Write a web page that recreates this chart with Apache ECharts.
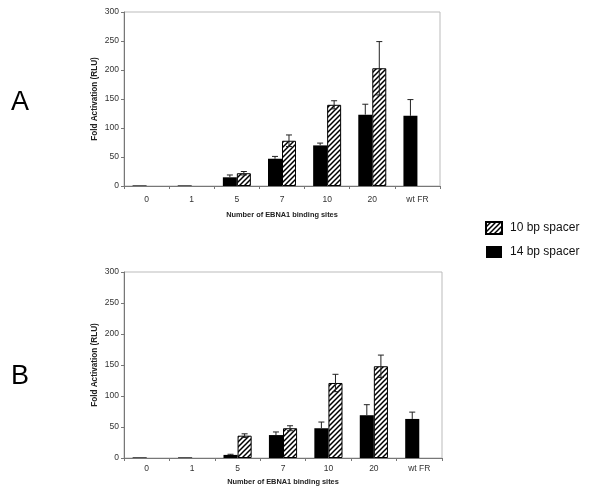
<!DOCTYPE html>
<html><head><meta charset="utf-8">
<script src="https://cdn.jsdelivr.net/npm/echarts@6/dist/echarts.min.js"></script>
<style>html,body{margin:0;padding:0;background:#fff}#c{width:600px;height:494px}</style>
</head><body><div id="c"></div>
<script>
var categories = ['0','1','5','7','10','20','wt FR'];
var yTicks = [0,50,100,150,200,250,300];
// Panel A
var aSpacer14 = [1,1,15,47,70,123,121];
var aSpacer14Err = [0,0,4,4,4,18,28];
var aSpacer10 = [null,null,22,78,140,203,null];
var aSpacer10Err = [null,null,3,10,7,46,null];
// Panel B
var bSpacer14 = [1,1,5,37,48,69,63];
var bSpacer14Err = [0,0,1,5,10,17,11];
var bSpacer10 = [null,null,36,48,121,148,null];
var bSpacer10Err = [null,null,3,4,14,18,null];

var pc = document.createElement('canvas');
pc.width = 5; pc.height = 5;
var g = pc.getContext('2d');
g.fillStyle = '#fff'; g.fillRect(0,0,5,5);
g.strokeStyle = '#000'; g.lineWidth = 1.5;
g.beginPath();
g.moveTo(-1,6); g.lineTo(6,-1);
g.moveTo(-1,1); g.lineTo(1,-1);
g.moveTo(4,6); g.lineTo(6,4);
g.stroke();
var hatch = {image: pc, repeat: 'repeat'};

function errData(vals, errs){
  var out = [];
  for (var i = 0; i < vals.length; i++) {
    if (vals[i] != null && errs[i]) out.push([i, vals[i], errs[i]]);
  }
  return out;
}
function errRender(sign, lower){
  return function(params, api){
    var x = api.value(0), v = api.value(1), e = api.value(2);
    var band = api.size([1,0])[0];
    var off = sign * band * 0.155;
    var top = api.coord([x, v + e]);
    var bot = api.coord([x, lower ? Math.max(0, v - e) : v]);
    var cx = top[0] + off, hw = 3;
    var st = {stroke: '#222', lineWidth: 1};
    var ch = [
      {type: 'line', shape: {x1: cx, y1: top[1], x2: cx, y2: bot[1]}, style: st},
      {type: 'line', shape: {x1: cx - hw, y1: top[1], x2: cx + hw, y2: top[1]}, style: st}
    ];
    if (lower) ch.push({type: 'line', shape: {x1: cx - hw, y1: bot[1], x2: cx + hw, y2: bot[1]}, style: st});
    return {type: 'group', children: ch};
  };
}
function xAx(gi, labelMargin, nameGap){
  return {type: 'category', gridIndex: gi, data: categories,
    name: 'Number of EBNA1 binding sites', nameLocation: 'middle', nameGap: nameGap,
    nameMoveOverlap: false,
    nameTextStyle: {fontFamily: 'Liberation Sans', fontSize: 7.4, fontWeight: 'bold', color: '#222'},
    axisLine: {lineStyle: {color: '#777'}},
    axisTick: {show: true, length: 3, lineStyle: {color: '#777'}},
    axisLabel: {fontFamily: 'Liberation Sans', fontSize: 8.5, color: '#333', margin: labelMargin}};
}
function yAx(gi){
  return {type: 'value', gridIndex: gi, min: 0, max: 300, interval: 50,
    name: 'Fold Activation (RLU)', nameLocation: 'middle', nameGap: 25, nameRotate: 90,
    nameMoveOverlap: false,
    nameTextStyle: {fontFamily: 'Liberation Sans', fontSize: 8.2, fontWeight: 'bold', color: '#222'},
    axisLine: {show: true, lineStyle: {color: '#777'}},
    axisTick: {show: true, length: 3, lineStyle: {color: '#777'}},
    splitLine: {show: false},
    axisLabel: {fontFamily: 'Liberation Sans', fontSize: 8.5, color: '#333', margin: 5}};
}
function bars(gi, v14, v10){
  return [
    {name: '14 bp spacer', type: 'bar', xAxisIndex: gi, yAxisIndex: gi, data: v14,
     barWidth: '31%', barGap: '0%', itemStyle: {color: '#000'}},
    {name: '10 bp spacer', type: 'bar', xAxisIndex: gi, yAxisIndex: gi, data: v10,
     barWidth: '31%', barGap: '0%', itemStyle: {color: hatch, borderColor: '#000', borderWidth: 1}}
  ];
}
var series = [].concat(
  bars(0, aSpacer14, aSpacer10), bars(1, bSpacer14, bSpacer10),
  [
    {type: 'custom', xAxisIndex: 0, yAxisIndex: 0, z: 5, renderItem: errRender(-1, false), data: errData(aSpacer14, aSpacer14Err)},
    {type: 'custom', xAxisIndex: 0, yAxisIndex: 0, z: 5, renderItem: errRender(1, true), data: errData(aSpacer10, aSpacer10Err)},
    {type: 'custom', xAxisIndex: 1, yAxisIndex: 1, z: 5, renderItem: errRender(-1, false), data: errData(bSpacer14, bSpacer14Err)},
    {type: 'custom', xAxisIndex: 1, yAxisIndex: 1, z: 5, renderItem: errRender(1, true), data: errData(bSpacer10, bSpacer10Err)}
  ]
);
var chart = echarts.init(document.getElementById('c'), null, {renderer: 'canvas'});
chart.setOption({
  backgroundColor: '#fff',
  animation: false,
  grid: [
    {left: 124, top: 12, width: 316, height: 174, show: true, borderColor: '#bbb', borderWidth: 1},
    {left: 124, top: 272, width: 318, height: 186, show: true, borderColor: '#bbb', borderWidth: 1}
  ],
  xAxis: [xAx(0, 9, 25), xAx(1, 6, 20)],
  yAxis: [yAx(0), yAx(1)],
  legend: {data: [{name: '10 bp spacer', icon: 'rect'}, {name: '14 bp spacer', icon: 'rect'}],
    orient: 'vertical', left: 480, top: 216,
    itemWidth: 16, itemHeight: 12, itemGap: 11,
    textStyle: {fontFamily: 'Liberation Sans', fontSize: 12, color: '#111', padding: [0, 0, 0, 3]}},
  graphic: [
    {type: 'text', left: 11, top: 89, style: {text: 'A', font: '27px "Liberation Sans"', fill: '#000'}},
    {type: 'text', left: 11, top: 363, style: {text: 'B', font: '27px "Liberation Sans"', fill: '#000'}}
  ],
  series: series
});
</script></body></html>
